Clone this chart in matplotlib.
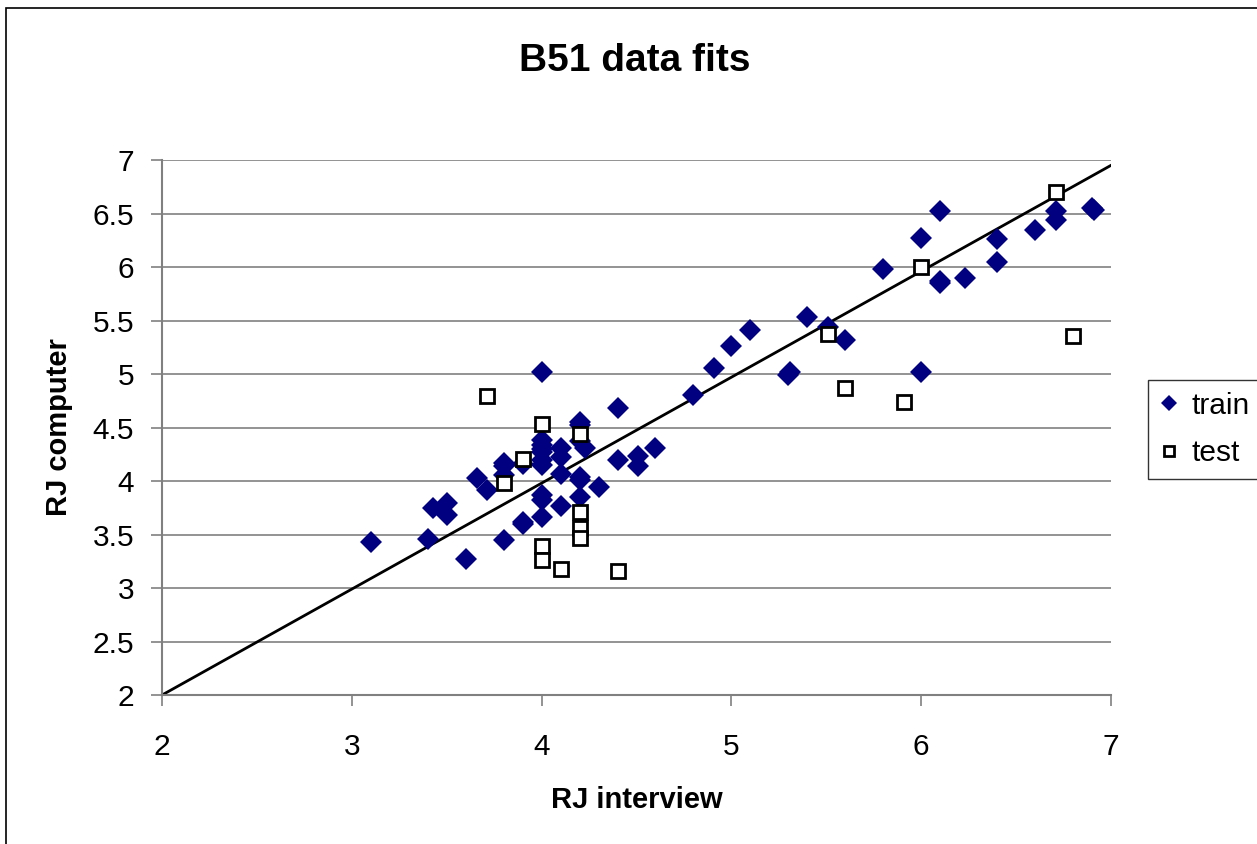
import matplotlib
matplotlib.use("Agg")
import matplotlib.pyplot as plt
from matplotlib.patches import Rectangle

plt.rcParams['font.family'] = ['Liberation Sans', 'DejaVu Sans']

# valeurs
train_x = [3.10, 3.40, 3.43, 3.50, 3.50, 3.60, 3.66, 3.71, 3.80, 3.80, 3.80, 3.80,
           3.90, 3.90, 3.90, 4.00, 4.00, 4.00, 4.00, 4.00, 4.00, 4.00, 4.00, 4.00,
           4.00, 4.10, 4.10, 4.10, 4.10, 4.20, 4.20, 4.20, 4.23, 4.20, 4.20, 4.20,
           4.30, 4.40, 4.40, 4.51, 4.51, 4.60, 4.80, 4.91, 5.00, 5.10, 5.31, 5.30,
           5.40, 5.51, 5.60, 5.80, 6.00, 6.00, 6.10, 6.10, 6.10, 6.23, 6.40, 6.40,
           6.60, 6.71, 6.71, 6.91, 6.90]
train_y = [3.43, 3.46, 3.75, 3.79, 3.68, 3.27, 4.03, 3.92, 4.17, 4.14, 4.06, 3.45,
           4.16, 3.62, 3.60, 5.02, 4.38, 4.34, 4.27, 4.20, 4.15, 3.87, 3.82, 3.66,
           4.30, 4.31, 4.22, 4.07, 3.77, 4.55, 4.52, 4.37, 4.31, 4.04, 4.01, 3.85,
           3.94, 4.68, 4.20, 4.23, 4.14, 4.31, 4.80, 5.06, 5.26, 5.41, 5.02, 4.99,
           5.53, 5.44, 5.32, 5.98, 6.27, 5.02, 6.52, 5.87, 5.85, 5.90, 6.26, 6.05,
           6.35, 6.52, 6.44, 6.53, 6.55]

test_x = [3.71, 4.00, 3.90, 4.20, 3.80, 4.20, 4.20, 4.20, 4.00, 4.00, 4.10, 4.40,
          6.71, 6.00, 5.51, 5.60, 5.91, 6.80]
test_y = [4.79, 4.53, 4.21, 4.44, 3.98, 3.71, 3.56, 3.47, 3.39, 3.26, 3.18, 3.16,
          6.70, 6.00, 5.37, 4.87, 4.74, 5.36]

# droite d'ajustement
fit_x = [2, 7]
fit_y = [2, 6.95]

fig = plt.figure(figsize=(12.57, 8.44), dpi=100)
ax = fig.add_axes([0.1289, 0.1765, 0.7549, 0.6339])

# cadre autour de tout le graphique
fig.patches.append(Rectangle((0.005, -0.01), 1.2, 1.0, transform=fig.transFigure,
                             fill=False, edgecolor='black', linewidth=1.2))

ax.set_axisbelow(True)
ax.yaxis.grid(True, color='#808080', linewidth=1.2)
ax.plot(fit_x, fit_y, color='black', linewidth=2, zorder=2)
ax.plot(train_x, train_y, 'D', color='#000080', markersize=11,
        markeredgewidth=0, label='train', zorder=3)
ax.plot(test_x, test_y, 's', markerfacecolor='white', markeredgecolor='black',
        markersize=10, markeredgewidth=2, label='test', zorder=4)

ax.set_xlim(2, 7)
ax.set_ylim(2, 7)
ax.set_xticks([2, 3, 4, 5, 6, 7])
ax.set_yticks([2, 2.5, 3, 3.5, 4, 4.5, 5, 5.5, 6, 6.5, 7])
ax.set_yticklabels(['2', '2.5', '3', '3.5', '4', '4.5', '5', '5.5', '6', '6.5', '7'])
ax.tick_params(labelsize=21.5, direction='out', length=8, width=1.2, color='#808080')
ax.tick_params(axis='x', pad=19)
ax.tick_params(axis='y', pad=12)
for s in ['top', 'right']:
    ax.spines[s].set_visible(False)
for s in ['left', 'bottom']:
    ax.spines[s].set_color('#808080')
    ax.spines[s].set_linewidth(1.5)

ax.set_xlabel('RJ interview', fontsize=21, fontweight='bold', labelpad=18)
ax.set_ylabel('RJ computer', fontsize=21, fontweight='bold', labelpad=14)
fig.text(0.505, 0.928, 'B51 data fits', fontsize=28, fontweight='bold',
         ha='center', va='center')

leg = fig.legend(loc='upper left', bbox_to_anchor=(0.9135, 0.55), fontsize=21.5,
                 frameon=True, fancybox=False, edgecolor='black', handlelength=0.6,
                 handletextpad=0.45, borderpad=0.4, labelspacing=0.65,
                 borderaxespad=0, markerscale=0.7)
leg.get_frame().set_linewidth(1)

fig.savefig('out.png', dpi=100)
